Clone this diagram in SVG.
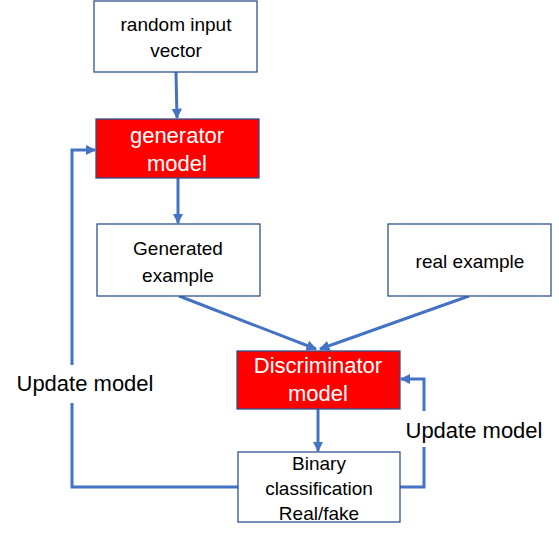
<svg xmlns="http://www.w3.org/2000/svg" width="559" height="539" viewBox="0 0 559 539">
<style>
.box{fill:#fff;stroke:#2F528F;stroke-width:1.3}
.red{fill:#FF0000;stroke:#2F528F;stroke-width:1.3}
.t{font-family:"Liberation Sans",Arial,sans-serif;font-size:19px;fill:#000;text-anchor:middle}
.tw{font-family:"Liberation Sans",Arial,sans-serif;font-size:22px;fill:#fff;text-anchor:middle}
.lbl{font-family:"Liberation Sans",Arial,sans-serif;font-size:22px;fill:#000;text-anchor:middle}
.c{fill:none;stroke:#4472C4;stroke-width:3}
</style>
<defs>
<marker id="ah" viewBox="0 0 10 10" refX="9" refY="5" markerWidth="3.5" markerHeight="3.5" orient="auto" markerUnits="strokeWidth">
<path d="M0,0 L10,5 L0,10 z" fill="#4472C4"/>
</marker>
</defs>
<g id="connectors">
<line class="c" x1="176" y1="72" x2="177" y2="118" marker-end="url(#ah)"/>
<line class="c" x1="178" y1="178" x2="178" y2="223" marker-end="url(#ah)"/>
<line class="c" x1="179" y1="296" x2="316" y2="349" marker-end="url(#ah)"/>
<line class="c" x1="469" y1="296" x2="320" y2="349" marker-end="url(#ah)"/>
<line class="c" x1="318" y1="409" x2="318" y2="451" marker-end="url(#ah)"/>
<polyline class="c" points="238,487 72,487 72,150 95,150" marker-end="url(#ah)"/>
<polyline class="c" points="400,487 424,487 424,379 401,379" marker-end="url(#ah)"/>
</g>
<g id="label-left">
<rect x="10" y="365" width="150" height="38" fill="#fff"/>
<text class="lbl" x="85" y="391">Update model</text>
</g>
<g id="label-right">
<rect x="401" y="411" width="148" height="36" fill="#fff"/>
<text class="lbl" x="474" y="438">Update model</text>
</g>
<g id="random">
<rect class="box" x="94" y="1" width="163" height="71"/>
<text class="t" x="176" y="31">random input</text>
<text class="t" x="176" y="57">vector</text>
</g>
<g id="generator">
<rect class="red" x="96" y="119" width="163" height="59"/>
<text class="tw" x="177" y="143">generator</text>
<text class="tw" x="177" y="171">model</text>
</g>
<g id="generated">
<rect class="box" x="97" y="224" width="163" height="72"/>
<text class="t" x="178" y="255">Generated</text>
<text class="t" x="178" y="282">example</text>
</g>
<g id="real">
<rect class="box" x="388" y="224" width="163" height="72"/>
<text class="t" x="470" y="268">real example</text>
</g>
<g id="discriminator">
<rect class="red" x="237" y="351" width="163" height="58"/>
<text class="tw" x="318" y="373">Discriminator</text>
<text class="tw" x="318" y="401">model</text>
</g>
<g id="binary">
<rect class="box" x="238" y="452" width="162" height="70"/>
<text class="t" x="319" y="470">Binary</text>
<text class="t" x="319" y="495">classification</text>
<text class="t" x="319" y="520">Real/fake</text>
</g>
</svg>
